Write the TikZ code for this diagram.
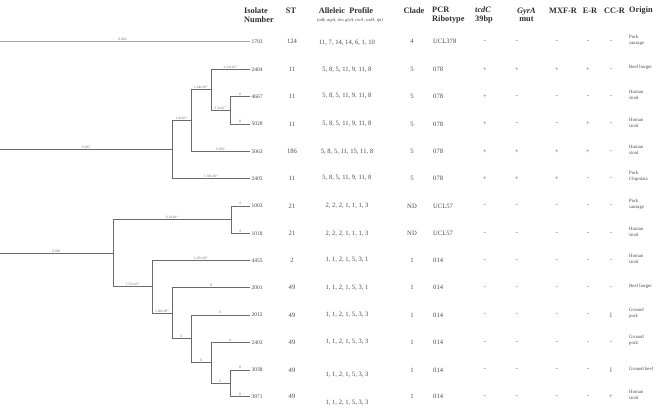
\documentclass[tikz,border=0pt]{standalone}
\usepackage{fontspec}
\setmainfont{Liberation Serif}
\definecolor{treegray}{HTML}{6A6A6A}
\definecolor{topgray}{HTML}{A8A8A8}
\definecolor{labgray}{HTML}{6A6A6A}
\definecolor{leafgray}{HTML}{454545}
\definecolor{valgray}{HTML}{4A4A4A}
\definecolor{markgray}{HTML}{5E5E5E}
\definecolor{headgray}{HTML}{2E2E2E}
\newcommand{\expo}[1]{\raisebox{1.1pt}{\fontsize{2.4}{3}\selectfont #1}}
\begin{document}
\begin{tikzpicture}[x=1pt,y=-1pt,
  branch/.style={draw=treegray,line width=0.85pt},
  topbranch/.style={draw=topgray,line width=1.5pt},
  lab/.style={font=\fontsize{3.6}{4}\selectfont,text=labgray,inner sep=0.6pt,above},
  leaf/.style={font=\fontsize{5.5}{6}\selectfont,text=leafgray,anchor=west,inner sep=1.5pt},
  head/.style={font=\fontsize{8.3}{9}\selectfont\bfseries,text=headgray,inner sep=0pt},
  val/.style={font=\fontsize{6.6}{7}\selectfont,text=valgray,inner sep=0pt},
  mk/.style={font=\fontsize{6.6}{7}\selectfont,text=markgray,inner sep=0pt},
  orig/.style={font=\fontsize{4.8}{6}\selectfont,text=valgray,inner sep=0pt,anchor=west,align=left}]
\useasboundingbox (0,0) rectangle (659,409);

% ---------- headers ----------
\node[head,anchor=west,align=left] (hIso) at (244,15) {Isolate\\[-0.5pt]Number};
\node[head] (hST) at (291,11) {ST};
\node[head] (hAP) at (346,11) {Alleleic\ \ Profile};
\node[font=\fontsize{4.4}{5}\selectfont\itshape,text=valgray,inner sep=0pt] (hAPs) at (350,20) {(adk, atpA, dxr, glyA, recA, sodA, tpi)};
\node[head] (hCl) at (414,11) {Clade};
\node[head,anchor=west,align=left] (hRb) at (432,15) {PCR\\[-0.5pt]Ribotype};
\node[head,anchor=west,align=left] (hTc) at (475,15) {\textit{tcdC}\\[-0.5pt]39bp};
\node[head,anchor=west,align=left] (hGy) at (517,15) {\textit{GyrA}\\[-0.5pt]\ mut};
\node[head] (hMx) at (563,11) {MXF-R};
\node[head] (hEr) at (590,11) {E-R};
\node[head] (hCc) at (614.5,11) {CC-R};
\node[head] (hOr) at (641,11) {Origin};

% ---------- tree coordinates ----------
\coordinate (r1) at (0,41.7);
\coordinate (r2) at (0,149.5);
\coordinate (r3) at (0,253.3);
\coordinate (A) at (172,149.5);
\coordinate (B) at (191,120.7);
\coordinate (C) at (211,89.7);
\coordinate (D) at (230,110.15);
\coordinate (E) at (113,253.3);
\coordinate (F) at (231,219.85);
\coordinate (G) at (152,286.8);
\coordinate (H) at (172,313.3);
\coordinate (I) at (191,338.9);
\coordinate (J) at (211,362.8);
\coordinate (K) at (230,383.35);
\foreach \i/\y/\n in {1/41.7/1703,2/69.3/2404,3/96.3/4667,4/124/5028,5/151.7/5063,
  6/178.3/2405,7/206/1003,8/233.7/1018,9/260.3/4455,10/287.7/2001,11/315/2012,
  12/342.3/2403,13/370/3038,14/396.7/3971}{
  \coordinate (t\i) at (250,\y);
  \node[leaf] (n\i) at (t\i) {\n};
}

% ---------- tree branches ----------
\draw[topbranch] (r1) -- node[lab,pos=0.49] (b1) {0.082} (t1);
\draw[branch] (r2) -- node[lab] (b2) {0.103} (A);
\draw[branch] (r3) -- node[lab] (b3) {0.081} (E);
\draw[branch] (A) |- node[lab,pos=.75] (b4) {1.9x10\expo{-5}} (B);
\draw[branch] (A) |- node[lab,pos=.75] (b5) {1.58x10\expo{-5}} (t6);
\draw[branch] (B) |- node[lab,pos=.75] (b6) {1.24x10\expo{-5}} (C);
\draw[branch] (B) |- node[lab,pos=.75] (b7) {0.002} (t5);
\draw[branch] (C) |- node[lab,pos=.75] (b8) {3.33x10\expo{-5}} (t2);
\draw[branch] (C) |- node[lab,pos=.75] (b9) {2.3x10\expo{-5}} (D);
\draw[branch] (D) |- node[lab,pos=.75] (b10) {0} (t3);
\draw[branch] (D) |- node[lab,pos=.75] (b11) {0} (t4);
\draw[branch] (E) |- node[lab,pos=.75] (b12) {6.2x10\expo{-5}} (F);
\draw[branch] (E) |- node[lab,pos=.75] (b13) {7.25x10\expo{-5}} (G);
\draw[branch] (F) |- node[lab,pos=.75] (b14) {0} (t7);
\draw[branch] (F) |- node[lab,pos=.75] (b15) {0} (t8);
\draw[branch] (G) |- node[lab,pos=.75] (b16) {1.45x10\expo{-5}} (t9);
\draw[branch] (G) |- node[lab,pos=.75] (b17) {1.66x10\expo{-5}} (H);
\draw[branch] (H) |- node[lab,pos=.75] (b18) {0} (t10);
\draw[branch] (H) |- node[lab,pos=.75] (b19) {0} (I);
\draw[branch] (I) |- node[lab,pos=.75] (b20) {0} (t11);
\draw[branch] (I) |- node[lab,pos=.75] (b21) {0} (J);
\draw[branch] (J) |- node[lab,pos=.75] (b22) {0} (t12);
\draw[branch] (J) |- node[lab,pos=.75] (b23) {0} (K);
\draw[branch] (K) |- node[lab,pos=.75] (b24) {0} (t13);
\draw[branch] (K) |- node[lab,pos=.75] (b25) {0} (t14);

% ---------- table ----------
\foreach \i/\y/\st/\ap/\ady/\cl/\rb/\tc/\gy/\mx/\er/\cc/\org in {
 1/41.7/124/{11, 7, 14, 14, 6, 1, 10}/1.5/4/UCL378/-/-/-/-/-/{Pork\\sausage},
 2/69.3/11/{5, 8, 5, 11, 9, 11, 8}/0.5/5/078/+/+/+/+/-/{Beef burger},
 3/96.3/11/{5, 8, 5, 11, 9, 11, 8}/0/5/078/+/-/-/-/-/{Human\\stool},
 4/124/11/{5, 8, 5, 11, 9, 11, 8}/0/5/078/+/-/-/+/-/{Human\\stool},
 5/151.7/186/{5, 8, 5, 11, 15, 11, 8}/0/5/078/+/+/+/+/-/{Human\\stool},
 6/178.3/11/{5, 8, 5, 11, 9, 11, 8}/0/5/078/+/+/+/-/-/{Pork\\Chipolata},
 7/206/21/{2, 2, 2, 1, 1, 1, 3}/0/ND/UCL57/-/-/-/-/-/{Pork\\sausage},
 8/233.7/21/{2, 2, 2, 1, 1, 1, 3}/0/ND/UCL57/-/-/-/-/-/{Human\\stool},
 9/260.3/2/{1, 1, 2, 1, 5, 3, 1}/0/1/014/-/-/-/-/-/{Human\\stool},
 10/287.7/49/{1, 1, 2, 1, 5, 3, 1}/0/1/014/-/-/-/-/-/{Beef burger},
 11/315/49/{1, 1, 2, 1, 5, 3, 3}/0/1/014/-/-/-/-/I/{Ground\\pork},
 12/342.3/49/{1, 1, 2, 1, 5, 3, 3}/0/1/014/-/-/-/-/-/{Ground\\pork},
 13/370/49/{1, 1, 2, 1, 5, 3, 3}/4.5/1/014/-/-/-/-/I/{Ground beef},
 14/396.7/49/{1, 1, 2, 1, 5, 3, 3}/6/1/014/-/-/-/-/+/{Human\\stool}}{
  \node[val] (st\i) at (292,\y) {\st};
  \node[val] (ap\i) at (347,\y+\ady) {\ap};
  \node[val] (cl\i) at (412,\y) {\cl};
  \node[val,anchor=west] (rb\i) at (433,\y) {\rb};
  \node[mk] (tc\i) at (485,\y) {\tc};
  \node[mk] (gy\i) at (517,\y) {\gy};
  \node[mk] (mx\i) at (557,\y) {\mx};
  \node[mk] (er\i) at (588,\y) {\er};
  \node[mk] (cc\i) at (611,\y) {\cc};
  \node[orig] (or\i) at (629,\y-1.5) {\org};
}
\end{tikzpicture}
\end{document}
